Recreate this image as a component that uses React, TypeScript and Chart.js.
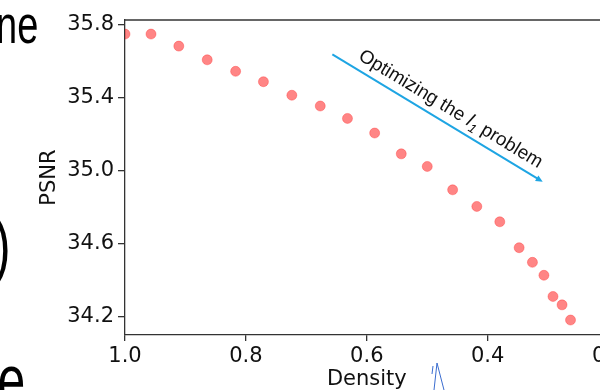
import React, { useEffect, useRef } from 'react';
import { Chart, registerables } from 'chart.js';

Chart.register(...registerables);

// Data
const density = [1.0, 0.957, 0.911, 0.864, 0.817, 0.771, 0.724, 0.677, 0.632, 0.587, 0.543, 0.5, 0.458, 0.418, 0.38, 0.348, 0.326, 0.307, 0.292, 0.277, 0.263];
const psnr = [35.748, 35.748, 35.682, 35.607, 35.544, 35.487, 35.413, 35.354, 35.286, 35.206, 35.092, 35.023, 34.895, 34.804, 34.72, 34.578, 34.498, 34.427, 34.311, 34.265, 34.182];
const xTicks = [1.0, 0.8, 0.6, 0.4, 0.2];
const yTicks = [34.2, 34.6, 35.0, 35.4, 35.8];
const arrowFrom = [0.657, 35.637];
const arrowTo = [0.309, 34.939];
const xTitle = 'Density';
const yTitle = 'PSNR';
const labelBefore = 'Optimizing the ';
const labelVar = 'l';
const labelSub = '1';
const labelAfter = ' problem';
const sideFragments = ['ne', ')', 'e'];

const SPINE = '#333333';
const TICKFONT = { family: 'DejaVu Sans', size: 21 };
const CANVAS_W = 660;
const CANVAS_H = 396;

const annotationPlugin = {
  id: 'annot',
  afterDraw(chart: any) {
    const { ctx, chartArea, scales } = chart;
    const xs = scales.x;
    const ys = scales.y;
    ctx.save();
    // top spine
    ctx.strokeStyle = SPINE;
    ctx.lineWidth = 1.3;
    ctx.beginPath();
    ctx.moveTo(chartArea.left, chartArea.top);
    ctx.lineTo(chartArea.right, chartArea.top);
    ctx.stroke();

    // arrow
    const x0 = xs.getPixelForValue(arrowFrom[0]);
    const y0 = ys.getPixelForValue(arrowFrom[1]);
    const x1 = xs.getPixelForValue(arrowTo[0]);
    const y1 = ys.getPixelForValue(arrowTo[1]);
    const ang = Math.atan2(y1 - y0, x1 - x0);
    const col = '#1ea5e3';
    ctx.strokeStyle = col;
    ctx.fillStyle = col;
    ctx.lineWidth = 2;
    const hl = 7;
    const hw = 3.2;
    ctx.beginPath();
    ctx.moveTo(x0, y0);
    ctx.lineTo(x1 - Math.cos(ang) * (hl - 1), y1 - Math.sin(ang) * (hl - 1));
    ctx.stroke();
    ctx.beginPath();
    ctx.moveTo(x1, y1);
    ctx.lineTo(x1 - Math.cos(ang) * hl + Math.sin(ang) * hw, y1 - Math.sin(ang) * hl - Math.cos(ang) * hw);
    ctx.lineTo(x1 - Math.cos(ang) * hl - Math.sin(ang) * hw, y1 - Math.sin(ang) * hl + Math.cos(ang) * hw);
    ctx.closePath();
    ctx.fill();

    // label along the arrow
    const along = 24;
    const perp = 9;
    const fs = 18.9;
    const ox = x0 + Math.cos(ang) * along + Math.sin(ang) * perp;
    const oy = y0 + Math.sin(ang) * along - Math.cos(ang) * perp;
    ctx.translate(ox, oy);
    ctx.rotate(ang);
    ctx.fillStyle = '#111';
    ctx.textBaseline = 'alphabetic';
    ctx.textAlign = 'left';
    let cx = 0;
    ctx.font = fs + 'px "Liberation Sans"';
    ctx.fillText(labelBefore, cx, 0);
    cx += ctx.measureText(labelBefore).width;
    ctx.font = 'italic ' + fs + 'px "Liberation Sans"';
    ctx.fillText(labelVar, cx, 0);
    cx += ctx.measureText(labelVar).width + 0.5;
    ctx.font = 'italic 12.5px "Liberation Sans"';
    ctx.fillText(labelSub, cx, 4);
    cx += ctx.measureText(labelSub).width;
    ctx.font = fs + 'px "Liberation Sans"';
    ctx.fillText(labelAfter, cx, 0);
    ctx.restore();

    // fragments of surrounding text on the left
    ctx.save();
    ctx.fillStyle = '#000';
    ctx.textBaseline = 'alphabetic';
    ctx.textAlign = 'left';
    const frag = (t: string, size: number, x: number, y: number) => {
      ctx.save();
      ctx.font = size + 'px "Liberation Sans"';
      ctx.translate(x, y);
      ctx.scale(1, 1.42);
      ctx.fillText(t, 0, 0);
      ctx.restore();
    };
    frag(sideFragments[0], 38, -4, 43);
    frag(sideFragments[1], 50, -6, 269);
    frag(sideFragments[2], 50, -2.5, 404);

    // small blue pen mark below the axis
    ctx.strokeStyle = '#3a6ccf';
    ctx.lineWidth = 1;
    ctx.beginPath();
    ctx.moveTo(437, 363);
    ctx.lineTo(434, 390);
    ctx.moveTo(437, 363);
    ctx.lineTo(444, 390);
    ctx.moveTo(433, 366);
    ctx.lineTo(432, 374);
    ctx.stroke();
    ctx.restore();
  },
};

export default function App() {
  const ref = useRef<HTMLCanvasElement | null>(null);

  useEffect(() => {
    if (!ref.current) return;
    const chart = new Chart(ref.current, {
      type: 'scatter',
      data: {
        datasets: [
          {
            data: density.map((d, i) => ({ x: d, y: psnr[i] })),
            backgroundColor: 'rgba(255,0,0,0.48)',
            borderColor: 'rgba(255,40,40,0.35)',
            borderWidth: 1,
            pointRadius: 5,
            pointHoverRadius: 5,
            clip: 0,
          } as any,
        ],
      },
      options: {
        animation: false,
        responsive: false,
        events: [],
        layout: { padding: { top: 20, right: 51.4, left: 0, bottom: 0 } },
        plugins: { legend: { display: false }, tooltip: { enabled: false } },
        scales: {
          x: {
            type: 'linear',
            reverse: true,
            min: 0.2,
            max: 1.0,
            afterBuildTicks: (s: any) => {
              s.ticks = xTicks.map((v) => ({ value: v }));
            },
            afterFit: (s: any) => {
              s.height = CANVAS_H - 335;
            },
            ticks: {
              autoSkip: false,
              maxRotation: 0,
              padding: 3,
              color: '#111',
              font: TICKFONT,
              callback: (v: any) => Number(v).toFixed(1),
            },
            grid: { display: true, drawOnChartArea: false, drawTicks: true, tickLength: 6, color: SPINE, lineWidth: 1.3 },
            border: { display: true, color: SPINE, width: 1.3 },
            title: { display: true, text: xTitle, color: '#111', font: TICKFONT, padding: { top: 0, bottom: 4 } },
          },
          y: {
            type: 'linear',
            min: 34.1,
            max: 35.825,
            afterBuildTicks: (s: any) => {
              s.ticks = yTicks.map((v) => ({ value: v }));
            },
            afterFit: (s: any) => {
              s.width = 125;
            },
            ticks: {
              padding: 4,
              color: '#111',
              font: TICKFONT,
              callback: (v: any) => Number(v).toFixed(1),
            },
            grid: { display: true, drawOnChartArea: false, drawTicks: true, tickLength: 7, color: SPINE, lineWidth: 1.3 },
            border: { display: true, color: SPINE, width: 1.3 },
            title: { display: true, text: yTitle, color: '#111', font: TICKFONT, padding: { top: 37, bottom: 0 } },
          },
        },
      },
      plugins: [annotationPlugin],
    });
    return () => chart.destroy();
  }, []);

  return (
    <div style={{ position: 'fixed', left: 0, top: 0, width: 600, height: 390, overflow: 'hidden', background: '#fff' }}>
      <canvas ref={ref} width={CANVAS_W} height={CANVAS_H} style={{ display: 'block', width: CANVAS_W, height: CANVAS_H }} />
    </div>
  );
}
